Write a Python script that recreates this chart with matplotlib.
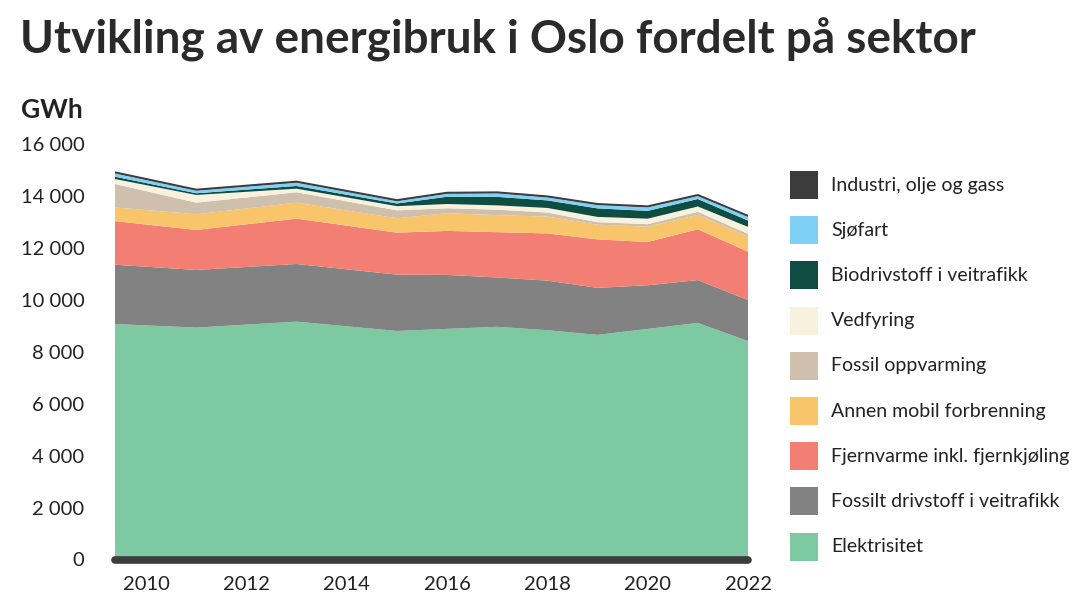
import matplotlib
matplotlib.use("Agg")
import matplotlib.pyplot as plt
from matplotlib.patches import Rectangle
import numpy as np

plt.rcParams['font.family'] = ['Lato', 'DejaVu Sans']

# data (GWh)
years = [2009, 2011, 2013, 2015, 2016, 2017, 2018, 2019, 2020, 2021, 2022]
elektrisitet = [9100, 8930, 9160, 8800, 8880, 8960, 8830, 8650, 8880, 9110, 8410]
fossilt_drivstoff = [2300, 2220, 2220, 2170, 2080, 1900, 1910, 1810, 1680, 1650, 1580]
fjernvarme = [1710, 1540, 1745, 1617, 1694, 1745, 1817, 1867, 1667, 1956, 1867]
annen_mobil = [510, 605, 616, 554, 680, 655, 650, 566, 590, 558, 578]
fossil_oppvarming = [1010, 447, 400, 305, 190, 212, 154, 96, 96, 115, 104]
vedfyring = [165, 296, 139, 160, 165, 165, 177, 204, 212, 204, 270]
biodrivstoff = [95, 65, 104, 103, 280, 327, 290, 327, 300, 289, 243]
sjofart = [135, 100, 127, 90, 115, 135, 115, 130, 135, 115, 142]
industri = [45, 45, 45, 45, 45, 45, 45, 45, 45, 45, 45]

series = [elektrisitet, fossilt_drivstoff, fjernvarme, annen_mobil,
          fossil_oppvarming, vedfyring, biodrivstoff, sjofart, industri]
labels = ['Elektrisitet', 'Fossilt drivstoff i veitrafikk',
          'Fjernvarme inkl. fjernkjøling', 'Annen mobil forbrenning',
          'Fossil oppvarming', 'Vedfyring', 'Biodrivstoff i veitrafikk',
          'Sjøfart', 'Industri, olje og gass']
colors = ['#7cc9a2', '#818281', '#f37e74', '#f8c56b', '#cfbfad',
          '#f8f1de', '#0f4c42', '#7ed1f5', '#3c3c3c']

yticks = [0, 2000, 4000, 6000, 8000, 10000, 12000, 14000, 16000]
xticks = [2010, 2012, 2014, 2016, 2018, 2020, 2022]

txt = '#222222'
x_left = 2009.38

fig = plt.figure(figsize=[10.8, 6.08], dpi=100)
ax = fig.add_axes([115/1080, 48.5/608, 633/1080, 415.5/608])

ax.stackplot(years, *series, colors=colors, linewidth=0)
# thin dark outline on top of the stack
ax.plot(years, np.sum(series, axis=0), color='#3c3c3c', lw=1.2)
ax.plot([x_left, years[-1]], [0, 0], color='#3c3c3c', lw=5.5,
        solid_capstyle='round', clip_on=False, zorder=5)

ax.set_xlim(x_left, 2022)
ax.set_ylim(0, 16000)
for s in ax.spines.values():
    s.set_visible(False)
ax.set_yticks(yticks)
ax.set_yticklabels(['{:,}'.format(v).replace(',', ' ') for v in yticks])
ax.set_xticks(xticks)
ax.set_xticklabels([str(y) for y in xticks])
ax.tick_params(length=0, labelsize=14.5, labelcolor=txt)
ax.tick_params(axis='y', pad=22)
ax.tick_params(axis='x', pad=12)

fig.text(20/1080, 1 - 40/608, 'Utvikling av energibruk i Oslo fordelt på sektor',
         fontsize=33, fontweight='bold', color='#2a2a2a', va='center')
fig.text(21/1080, 1 - 110/608, 'GWh', fontsize=19, fontweight='bold',
         color=txt, va='center')

# legend, top to bottom
for i, (lab, col) in enumerate(zip(labels[::-1], colors[::-1])):
    yc = 185 + i * 45.2
    fig.add_artist(Rectangle((790/1080, 1 - (yc + 14)/608), 28/1080, 28/608,
                             transform=fig.transFigure, color=col, lw=0))
    fig.text(831/1080, 1 - yc/608, lab, fontsize=14, color=txt, va='center')

plt.savefig('out.png', dpi=100)
